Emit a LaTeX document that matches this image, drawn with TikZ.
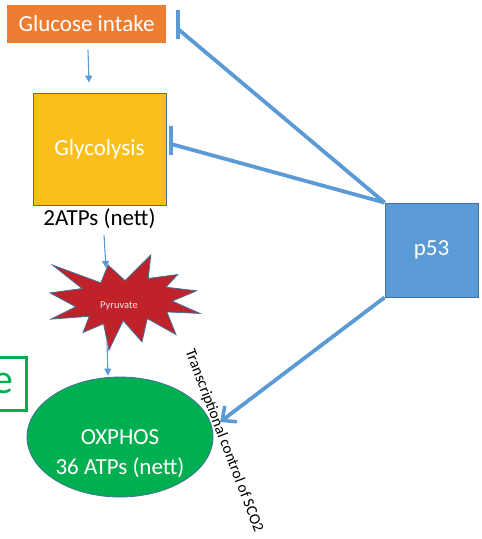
\documentclass[tikz,border=0pt]{standalone}
\usepackage{fontspec}
\setmainfont{Carlito}
\usepackage{xcolor}
\usetikzlibrary{arrows.meta,positioning,shapes.geometric}

\definecolor{offorange}{HTML}{ED7D31}
\definecolor{offgold}{RGB}{251,191,25}
\definecolor{offred}{RGB}{192,34,42}
\definecolor{offgreen}{HTML}{00B050}
\definecolor{offblue}{HTML}{5B9BD5}
\definecolor{offedge}{HTML}{41719C}

\begin{document}
\begin{tikzpicture}[
  x=1pt, y=-1pt,
  box/.style={minimum width=#1, inner sep=0pt, font=\fontsize{23}{27}\selectfont, text=white, align=center},
  inhline/.style={line width=3.8pt, color=offblue},
  thinarrow/.style={-{Triangle[length=7pt,width=7pt]}, line width=1.1pt, color=offblue},
  openarrow/.style={-{Straight Barb[length=11pt,width=20pt,line width=3.5pt]}, line width=3.8pt, color=offblue},
]
\useasboundingbox (0,0) rectangle (482,539);
\clip (0,0) rectangle (482,539);

% metabolism side
\node[box=159pt, minimum height=38pt, fill=offorange] (gi) at (86.5,24) {Glucose intake};
\node[box=133pt, minimum height=112pt, fill=offgold, draw=offedge, line width=0.8pt] (gly) at (99.5,149) {Glycolysis};
\node[below=3pt of gly, inner sep=0pt, font=\fontsize{23}{27}\selectfont] (atp) {2ATPs (nett)};

\begin{scope}[shift={(50,255)}, x=150pt, y=-95pt]
  \draw[fill=offred, draw=offedge, line width=0.8pt]
    (0.5,0.269) -- (0.672,0) -- (0.655,0.247) -- (0.851,0.206) -- (0.773,0.339)
    -- (0.977,0.377) -- (0.815,0.485) -- (1,0.615) -- (0.779,0.599) -- (0.840,0.838)
    -- (0.649,0.669) -- (0.613,0.914) -- (0.488,0.691) -- (0.393,1) -- (0.357,0.723)
    -- (0.220,0.816) -- (0.262,0.645) -- (0.006,0.675) -- (0.172,0.545) -- (0,0.399)
    -- (0.214,0.353) -- (0.017,0.106) -- (0.339,0.293) -- (0.387,0.106) -- cycle;
\end{scope}
\node[font=\fontsize{10.5}{12}\selectfont, text=white!88!offred] (pyr) at (119,306) {Pyruvate};
\coordinate (pyrin) at (106,268);
\coordinate (pyrout) at (107,342);

\node[ellipse, draw=offedge, line width=0.8pt, fill=offgreen, minimum width=186pt, minimum height=120pt] (ox) at (120,437) {};
\node[box=10pt, font=\fontsize{23}{30}\selectfont] (oxt) at (120,454) {OXPHOS\\36 ATPs (nett)};

\node[draw=offgreen, line width=3pt, minimum width=46pt, minimum height=53pt, inner sep=0pt,
      text=offgreen, font=\fontsize{42}{46}\selectfont] (cut) at (3,383.5) {e};

% p53 and its links
\node[box=93pt, minimum height=94pt, fill=offblue, draw=offedge, line width=0.8pt] (p53) at (431.5,250) {p53};

\coordinate (gibar) at (178,29);
\coordinate (glybar) at (171,144);
\coordinate (oxin) at (220,422);

\draw[thinarrow] ([xshift=1.5pt,yshift=-7pt]gi.south) -- ([xshift=-10.5pt,yshift=10pt]gly.north);
\draw[thinarrow] ([xshift=4.5pt,yshift=-6pt]atp.south) -- (pyrin);
\draw[thinarrow] (pyrout) -- ([xshift=-12pt,yshift=1pt]ox.north);

\node[rotate=-69, font=\fontsize{15.5}{18}\selectfont, inner sep=0pt] (sco) at (224,441) {Transcriptional control of SCO2};

\draw[inhline] (p53.north west) -- (gibar);
\draw[inhline] (gibar) ++(0,-19) -- ++(0,29);
\draw[inhline] (p53.north west) -- (glybar);
\draw[inhline] (glybar) ++(0,-18) -- ++(0,29);
\draw[openarrow] (p53.south west) -- (oxin);

\end{tikzpicture}
\end{document}
